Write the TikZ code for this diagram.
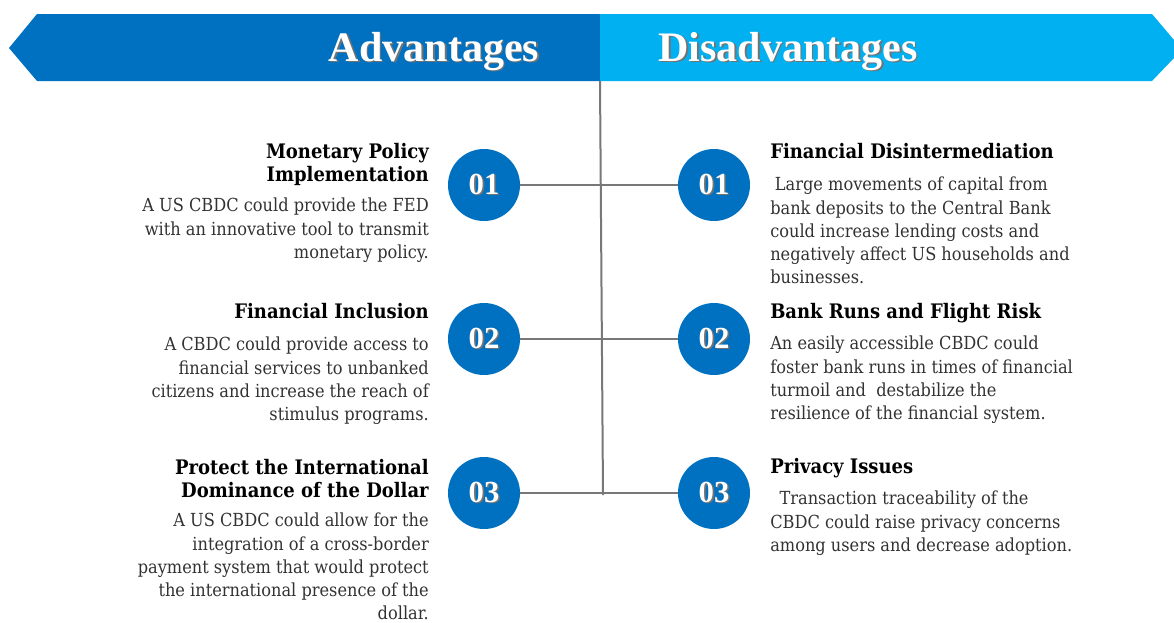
\documentclass[tikz,border=0pt]{standalone}
\usepackage{fontspec}
\setmainfont{DejaVu Serif Condensed}
\newfontfamily\headfont{Liberation Serif}
\usetikzlibrary{positioning}
\definecolor{mblue}{RGB}{0,112,192}
\definecolor{lblue}{RGB}{0,176,240}
\definecolor{lgray}{RGB}{120,120,120}
\definecolor{tgray}{RGB}{50,50,50}
\newcommand\shadowed[1]{\leavevmode\rlap{\kern1.2pt\raisebox{-1.2pt}{\color{black!55}#1}}#1}
\tikzset{
  num/.style = {circle, fill=mblue, minimum size=54pt, inner sep=0, text=white,
    font=\headfont\bfseries\fontsize{23}{23}\selectfont},
  head/.style = {inner sep=0, text=white, font=\headfont\bfseries\fontsize{31.5}{31.5}\selectfont},
  title/.style = {inner sep=0, text=black, font=\bfseries\fontsize{15}{17.4}\selectfont},
  body/.style = {inner sep=0, text=tgray, font=\fontsize{13.5}{17.3}\selectfont},
  link/.style = {lgray, line width=1.5pt}
}

\begin{document}
\begin{tikzpicture}[x=0.75pt, y=-0.75pt]
      \useasboundingbox (0, 0) rectangle (1174, 622);

      % banners
      \fill [mblue] (9, 48) -- (37, 14) -- (600, 14) -- (600, 81) -- (37, 81) -- cycle;
      \fill [lblue] (600, 14) -- (1152, 14) -- (1174, 40) -- (1174, 58) -- (1152, 81) -- (600, 81) -- cycle;
      \node [head] (adv) at (434, 52) {\shadowed{Advantages}};
      \node [head] (dis) at (788, 52) {\shadowed{Disadvantages}};

      % spine
      \coordinate (top) at (600, 81);
      \coordinate (bot) at (603, 495);
      \draw [link] (top) -- (bot);

      \node [num] (l1) at (484, 185) {\shadowed{01}};
      \node [num] (l2) at (484, 339) {\shadowed{02}};
      \node [num] (l3) at (484, 493) {\shadowed{03}};
      \node [num] (r1) at (714, 185) {\shadowed{01}};
      \node [num] (r2) at (714, 339) {\shadowed{02}};
      \node [num] (r3) at (714, 493) {\shadowed{03}};

      \draw [link] (l1) -- (r1);
      \draw [link] (l2) -- (r2);
      \draw [link] (l3) -- (r3);

      % advantages
      \node [title, align=right, anchor=north east] (at1) at (429, 143)
        {Monetary Policy\\Implementation};
      \node [body, align=right, anchor=north east] (ab1) at (429, 198)
        {A US CBDC could provide the FED\\with an innovative tool to transmit\\monetary policy.};
      \node [title, align=right, anchor=north east] (at2) at (429, 303)
        {Financial Inclusion};
      \node [body, align=right, anchor=north east] (ab2) at (429, 337)
        {A CBDC could provide access to\\financial services to unbanked\\citizens and increase the reach of\\stimulus programs.};
      \node [title, align=right, anchor=north east] (at3) at (429, 459)
        {Protect the International\\Dominance of the Dollar};
      \node [body, align=right, anchor=north east] (ab3) at (429, 513)
        {A US CBDC could allow for the\\integration of a cross-border\\payment system that would protect\\the international presence of the\\dollar.};

      % disadvantages
      \node [title, align=left, anchor=north west] (dt1) at (770, 143)
        {Financial Disintermediation};
      \node [body, align=left, anchor=north west] (db1) at (770, 177)
        {\hspace{3.5pt}Large movements of capital from\\bank deposits to the Central Bank\\could increase lending costs and\\negatively affect US households and\\businesses.};
      \node [title, align=left, anchor=north west] (dt2) at (770, 303)
        {Bank Runs and Flight Risk};
      \node [body, align=left, anchor=north west] (db2) at (770, 336)
        {An easily accessible CBDC could\\foster bank runs in times of financial\\turmoil and \ destabilize the\\resilience of the financial system.};
      \node [title, align=left, anchor=north west] (dt3) at (770, 458)
        {Privacy Issues};
      \node [body, align=left, anchor=north west] (db3) at (770, 491)
        {\hspace{7pt}Transaction traceability of the\\CBDC could raise privacy concerns\\among users and decrease adoption.};
    \end{tikzpicture}
\end{document}
